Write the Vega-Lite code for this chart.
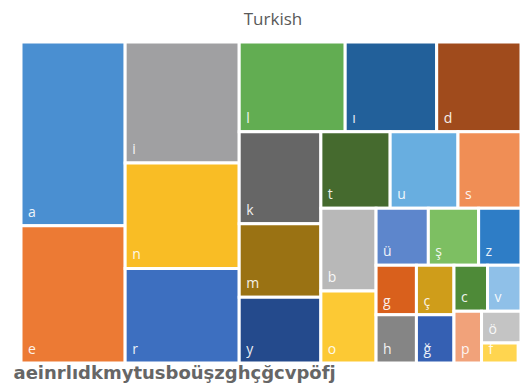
{
  "$schema": "https://vega.github.io/schema/vega-lite/v6.json",
  "width": 500,
  "height": 321,
  "autosize": "none",
  "padding": {"left": 21, "top": 42, "right": 1, "bottom": 23},
  "background": "white",
  "title": {
    "text": "Turkish",
    "font": "Open Sans",
    "fontSize": 17,
    "fontWeight": "normal",
    "color": "#595959",
    "anchor": "middle",
    "dx": 2,
    "offset": 12
  },
  "config": {"view": {"stroke": null}},
  "data": {
    "values": [
      {"letter": "a", "freq": 11.92, "strip": 1},
      {"letter": "e", "freq": 8.91, "strip": 1},
      {"letter": "i", "freq": 8.6, "strip": 2},
      {"letter": "n", "freq": 7.49, "strip": 2},
      {"letter": "r", "freq": 6.72, "strip": 2},
      {"letter": "l", "freq": 5.92, "strip": 3},
      {"letter": "ı", "freq": 5.11, "strip": 3},
      {"letter": "d", "freq": 4.71, "strip": 3},
      {"letter": "k", "freq": 4.68, "strip": 4},
      {"letter": "m", "freq": 3.75, "strip": 4},
      {"letter": "y", "freq": 3.34, "strip": 4},
      {"letter": "t", "freq": 3.31, "strip": 5},
      {"letter": "u", "freq": 3.24, "strip": 5},
      {"letter": "s", "freq": 3.01, "strip": 5},
      {"letter": "b", "freq": 2.84, "strip": 6},
      {"letter": "o", "freq": 2.48, "strip": 6},
      {"letter": "ü", "freq": 1.85, "strip": 7},
      {"letter": "ş", "freq": 1.78, "strip": 7},
      {"letter": "z", "freq": 1.5, "strip": 7},
      {"letter": "g", "freq": 1.25, "strip": 8},
      {"letter": "h", "freq": 1.21, "strip": 8},
      {"letter": "ç", "freq": 1.16, "strip": 9},
      {"letter": "ğ", "freq": 1.13, "strip": 9},
      {"letter": "c", "freq": 0.963, "strip": 10},
      {"letter": "v", "freq": 0.959, "strip": 10},
      {"letter": "p", "freq": 0.89, "strip": 11},
      {"letter": "ö", "freq": 0.78, "strip": 12},
      {"letter": "f", "freq": 0.46, "strip": 13},
      {"letter": "j", "freq": 0.034, "strip": 13}
    ]
  },
  "transform": [
    {"window": [{"op": "sum", "field": "freq", "as": "R"}], "sort": [{"field": "strip", "order": "descending"}], "frame": [null, 0]},
    {"joinaggregate": [{"op": "sum", "field": "freq", "as": "S"}], "groupby": ["strip"]},
    {"calculate": "indexof([3, 5, 7, 10, 12, 13], datum.strip) >= 0 ? 'row' : 'col'", "as": "dir"},
    {"calculate": "min(datum.S / datum.R, 1)", "as": "f"},
    {"calculate": "log(max(1 - datum.f, 1e-9))", "as": "lf"},
    {"calculate": "datum.dir === 'col' ? datum.lf * datum.freq / datum.S : 0", "as": "lc"},
    {"calculate": "datum.dir === 'row' ? datum.lf * datum.freq / datum.S : 0", "as": "lr"},
    {"window": [{"op": "sum", "field": "lc", "as": "LC"}, {"op": "sum", "field": "lr", "as": "LR"}], "sort": [{"field": "strip", "order": "ascending"}], "frame": [null, 0]},
    {"calculate": "exp(datum.LC - (datum.dir === 'col' ? datum.lf : 0))", "as": "rw"},
    {"calculate": "exp(datum.LR - (datum.dir === 'row' ? datum.lf : 0))", "as": "rh"},
    {"window": [{"op": "sum", "field": "freq", "as": "cum"}], "groupby": ["strip"], "sort": [{"field": "freq", "order": "descending"}], "frame": [null, 0], "ignorePeers": true},
    {"calculate": "(datum.cum - datum.freq) / datum.S", "as": "p0"},
    {"calculate": "datum.cum / datum.S", "as": "p1"},
    {"calculate": "datum.dir === 'col' ? 1 - datum.rw : 1 - datum.rw + datum.p0 * datum.rw", "as": "x0"},
    {"calculate": "datum.dir === 'col' ? 1 - datum.rw + datum.f * datum.rw : 1 - datum.rw + datum.p1 * datum.rw", "as": "x1"},
    {"calculate": "datum.dir === 'col' ? 1 - datum.rh + datum.p0 * datum.rh : 1 - datum.rh", "as": "y0"},
    {"calculate": "datum.dir === 'col' ? 1 - datum.rh + datum.p1 * datum.rh : 1 - datum.rh + datum.f * datum.rh", "as": "y1"}
  ],
  "layer": [
    {
      "mark": {"type": "rect", "stroke": "white", "strokeWidth": 3},
      "encoding": {
        "x": {
          "field": "x0",
          "type": "quantitative",
          "scale": {"domain": [0, 1], "nice": false, "zero": false},
          "axis": {
            "title": "aeinrlıdkmytusboüşzghçğcvpöfj",
            "titleFont": "DejaVu Sans",
            "titleFontSize": 18,
            "titleFontWeight": "bold",
            "titleColor": "#666666",
            "titleAnchor": "start",
            "titleAlign": "left",
            "titleBaseline": "alphabetic",
            "titleX": -8,
            "titleY": 15,
            "domain": false,
            "ticks": false,
            "labels": false,
            "grid": false
          }
        },
        "x2": {"field": "x1"},
        "y": {
          "field": "y0",
          "type": "quantitative",
          "scale": {"domain": [0, 1], "nice": false, "zero": false, "reverse": true},
          "axis": null
        },
        "y2": {"field": "y1"},
        "color": {
          "field": "letter",
          "type": "nominal",
          "legend": null,
          "scale": {
            "domain": ["a", "e", "i", "n", "r", "l", "ı", "d", "k", "m", "y", "t", "u", "s", "b", "o", "ü", "ş", "z", "g", "h", "ç", "ğ", "c", "v", "p", "ö", "f", "j"],
            "range": ["#4a8fd1", "#ec7a34", "#a0a0a2", "#f9bd25", "#3d6fc0", "#62ad52", "#22609a", "#a04b1c", "#666666", "#9a7213", "#244a8c", "#456a2e", "#68aee0", "#f08e55", "#b8b8b8", "#fcc934", "#5d86cc", "#7dbf62", "#2e7dc6", "#d9601c", "#858585", "#cf9d1a", "#3560b3", "#4e8a38", "#8fc0e8", "#f1a27a", "#c4c4c4", "#ffd54f", "#9dc3e6"]
          }
        }
      }
    },
    {
      "transform": [{"filter": "datum.freq >= 0.1"}],
      "mark": {
        "type": "text",
        "align": "left",
        "baseline": "alphabetic",
        "dx": 7,
        "dy": -9,
        "font": "Open Sans",
        "fontSize": 14,
        "fill": "white",
        "opacity": 0.9
      },
      "encoding": {
        "x": {"field": "x0", "type": "quantitative", "scale": {"domain": [0, 1], "nice": false, "zero": false}},
        "y": {"field": "y1", "type": "quantitative", "scale": {"domain": [0, 1], "nice": false, "zero": false, "reverse": true}},
        "text": {"field": "letter"}
      }
    }
  ]
}
